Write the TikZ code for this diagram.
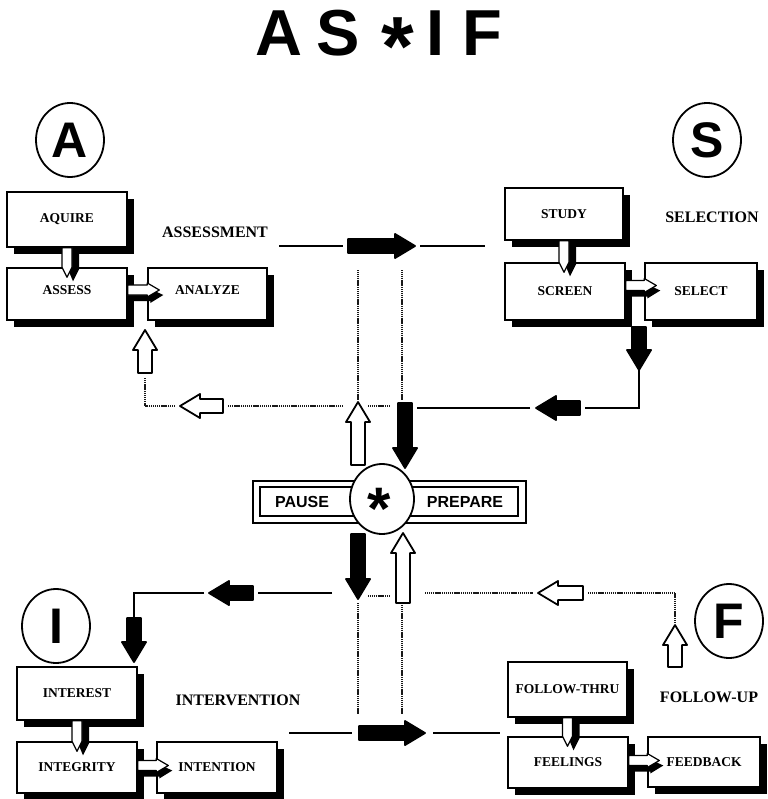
\documentclass[tikz,border=0pt]{standalone}
\usepackage{fontspec}
\setmainfont{Liberation Serif}
\newfontfamily\hsans{Liberation Sans}
\usetikzlibrary{shapes.geometric,shadows,calc}

% block arrow: tail coordinate, angle, length, fill colour
\newcommand{\barrow}[4]{%
\begin{scope}[shift={(#1)},rotate=#2]
\filldraw[fill=#4,draw=black,line width=1.8pt,line join=round]
 (0,-7) -- ({#3-20},-7) -- ({#3-20},-12) -- (#3,0) -- ({#3-20},12) -- ({#3-20},7) -- (0,7) -- cycle;
\end{scope}}

% vertical connector between stacked boxes
\newcommand{\vconn}[2]{%
\path let \p1=(#1.south), \p2=(#2.north) in
 [fill=black] ({\x1+1pt},{\y1-3pt}) -- ({\x1+12pt},{\y1-3pt}) -- ({\x1+12pt},{\y2-2pt})
   -- ({\x1+6pt},{\y2-14pt}) -- ({\x1+1pt},{\y2-2pt}) -- cycle;
\path let \p1=(#1.south), \p2=(#2.north) in
 [fill=white,draw=black,line width=1.2pt,line join=round]
 ({\x1-5pt},{\y1}) -- ({\x1+5pt},{\y1}) -- ({\x1+5pt},{\y2})
   -- ({\x1},{\y2-10pt}) -- ({\x1-5pt},{\y2}) -- cycle;}

% horizontal connector between side-by-side boxes (#3 = vertical offset, up)
\newcommand{\hconn}[3]{%
\path let \p1=(#1.east), \p2=(#2.west) in
 [fill=black] ({\x1},{\y1+#3-11pt}) -- ({\x2+3pt},{\y1+#3-11pt}) -- ({\x2+3pt},{\y1+#3-13pt})
   -- ({\x2+16pt},{\y1+#3-5pt}) -- ({\x2+3pt},{\y1+#3+1pt}) -- ({\x1},{\y1+#3+1pt}) -- cycle;
\path let \p1=(#1.east), \p2=(#2.west) in
 [fill=white,draw=black,line width=1.2pt,line join=round]
 ({\x1},{\y1+#3+5pt}) -- ({\x2},{\y1+#3+5pt}) -- ({\x2},{\y1+#3+7pt}) -- ({\x2+12pt},{\y1+#3})
   -- ({\x2},{\y1+#3-7pt}) -- ({\x2},{\y1+#3-5pt}) -- ({\x1},{\y1+#3-5pt}) -- cycle;}

\tikzset{
  fbox/.style={draw, line width=1.4pt, fill=white, minimum width=120pt, minimum height=53pt,
    inner sep=0pt, font=\bfseries\fontsize{13.5}{14}\selectfont,
    drop shadow={shadow xshift=7pt, shadow yshift=-7pt, opacity=1, fill=black}},
  sect/.style={font=\bfseries\fontsize{16}{16}\selectfont, inner sep=0pt},
  letter/.style={ellipse, draw, line width=1.8pt, minimum width=68pt, minimum height=74pt,
    inner sep=0pt, font=\hsans\bfseries\fontsize{50}{50}\selectfont},
  solid line/.style={line width=1.6pt},
  dot line/.style={line width=1.4pt, black!90, dash pattern=on 1.2pt off 0.7pt},
  hublabel/.style={inner sep=0pt, font=\hsans\bfseries\fontsize{16}{16}\selectfont},
}

\begin{document}
\begin{tikzpicture}[x=1pt,y=-1pt]
\useasboundingbox (0,0) rectangle (767,799);

% title
\node[anchor=base west, inner sep=0pt] (title) at (255.5,56)
 {\hsans\bfseries\fontsize{65}{65}\selectfont A\hspace{13.8pt}S\hspace{21.7pt}\raisebox{-20pt}{\fontsize{84}{84}\selectfont *}\hspace{12pt}I\hspace{18pt}F};

% corner letters
\node[letter] (cA) at (70,140) {A};
\node[letter] (cS) at (707,140) {S};
\node[letter] (cI) at (56,626) {I};
\node[letter] (cF) at (729,621) {F};

% coordinates for connectors
\coordinate (t1) at (279,246); \coordinate (t2) at (343,246);
\coordinate (t3) at (420,246); \coordinate (t4) at (485,246);
\coordinate (ta) at (348,246);
\coordinate (v1a) at (358,270); \coordinate (v1b) at (358,400);
\coordinate (v2a) at (402,270); \coordinate (v2b) at (402,400);
\coordinate (l1) at (343,406); \coordinate (l2) at (228,406);
\coordinate (l3) at (175,406); \coordinate (l4) at (145,406); \coordinate (l5) at (145,378);
\coordinate (la) at (223,406); \coordinate (ua) at (145,373);
\coordinate (m1) at (368,406); \coordinate (m2) at (390,406);
\coordinate (cw1) at (358,465); \coordinate (cb1) at (405,403);
\coordinate (cb2) at (358,534); \coordinate (cw2) at (403,603);
\coordinate (sa) at (639,327);
\coordinate (r1) at (639,370); \coordinate (r2) at (639,408); \coordinate (r3) at (585,408);
\coordinate (ra) at (580,408);
\coordinate (r4) at (530,408); \coordinate (r5) at (417,408);
\coordinate (b1) at (332,593); \coordinate (b2) at (258,593);
\coordinate (ba) at (253,593);
\coordinate (b3) at (204,593); \coordinate (b4) at (134,593); \coordinate (b5) at (134,618);
\coordinate (bd) at (134,618);
\coordinate (m3) at (368,596); \coordinate (m4) at (389,596);
\coordinate (f1) at (425,593); \coordinate (f2) at (533,593);
\coordinate (fa) at (583,593);
\coordinate (f3) at (588,593); \coordinate (f4) at (675,593); \coordinate (f5) at (675,622);
\coordinate (fu) at (675,667);
\coordinate (v3a) at (358,603); \coordinate (v3b) at (358,715);
\coordinate (v4a) at (402,603); \coordinate (v4b) at (402,715);
\coordinate (g1) at (289,733); \coordinate (g2) at (352,733);
\coordinate (ga) at (359,733);
\coordinate (g3) at (433,733); \coordinate (g4) at (500,733);

% solid lines
\draw[solid line] (t1) -- (t2);
\draw[solid line] (t3) -- (t4);
\draw[solid line] (r1) -- (r2) -- (r3);
\draw[solid line] (r4) -- (r5);
\draw[solid line] (b1) -- (b2);
\draw[solid line] (b3) -- (b4) -- (b5);
\draw[solid line] (g1) -- (g2);
\draw[solid line] (g3) -- (g4);

% dotted lines
\draw[dot line] (v1a) -- (v1b);
\draw[dot line] (v2a) -- (v2b);
\draw[dot line] (l1) -- (l2);
\draw[dot line] (l3) -- (l4) -- (l5);
\draw[dot line] (m1) -- (m2);
\draw[dot line] (m3) -- (m4);
\draw[dot line] (f1) -- (f2);
\draw[dot line] (f3) -- (f4) -- (f5);
\draw[dot line] (v3a) -- (v3b);
\draw[dot line] (v4a) -- (v4b);

% block arrows
\barrow{ta}{0}{67}{black}
\barrow{ga}{0}{66}{black}
\barrow{cb1}{-90}{65}{black}
\barrow{cb2}{-90}{65}{black}
\barrow{cw1}{90}{63}{white}
\barrow{cw2}{90}{70}{white}
\barrow{sa}{-90}{43}{black}
\barrow{ra}{180}{44}{black}
\barrow{ba}{180}{44}{black}
\barrow{bd}{-90}{44}{black}
\barrow{la}{180}{43}{white}
\barrow{ua}{90}{43}{white}
\barrow{fa}{180}{45}{white}
\barrow{fu}{90}{42}{white}

% centre bar
\draw[line width=1.5pt, fill=white] (253,481) rectangle (526,523);
\draw[line width=1.3pt] (260,487) rectangle (518,516);
\node[hublabel] (pause) at (302,502) {PAUSE};
\node[hublabel] (prepare) at (465,502) {PREPARE};
\node[ellipse, draw, line width=1.8pt, fill=white, minimum width=64pt, minimum height=70pt, inner sep=0pt] (hub) at (382,499) {};
\node[anchor=base, inner sep=0pt, font=\hsans\bfseries\fontsize{60}{60}\selectfont] (star) at (379,529) {*};

% boxes: Assessment
\node[fbox, minimum height=55pt] (aquire) at (67,219.5) {AQUIRE};
\node[fbox, minimum height=52pt] (assess) at (67,294) {\raisebox{8pt}{ASSESS}};
\node[fbox, minimum height=52pt, minimum width=119pt] (analyze) at (207.5,294) {\raisebox{8pt}{ANALYZE}};
% Selection
\node[fbox, minimum height=52pt, minimum width=118pt] (study) at (564,214) {STUDY};
\node[fbox, minimum height=57pt] (screen) at (565,291.5) {SCREEN};
\node[fbox, minimum height=57pt, minimum width=112pt] (select) at (701,291.5) {SELECT};
% Intervention
\node[fbox] (interest) at (77,693.5) {INTEREST};
\node[fbox, minimum height=51pt] (integrity) at (77,767.5) {INTEGRITY};
\node[fbox, minimum height=51pt] (intention) at (217,767.5) {INTENTION};
% Follow-up
\node[fbox, minimum height=55pt, minimum width=119pt] (followthru) at (567.5,689.5) {FOLLOW-THRU};
\node[fbox, minimum height=51pt] (feelings) at (568,762.5) {FEELINGS};
\node[fbox, minimum height=50pt, minimum width=112pt] (feedback) at (704,762) {FEEDBACK};

% connectors between boxes
\vconn{aquire}{assess}
\vconn{study}{screen}
\vconn{interest}{integrity}
\vconn{followthru}{feelings}
\hconn{assess}{analyze}{4pt}
\hconn{screen}{select}{6pt}
\hconn{integrity}{intention}{2pt}
\hconn{feelings}{feedback}{2pt}

% section labels
\node[sect] (lassess) at (215,232) {ASSESSMENT};
\node[sect] (lselect) at (712,217) {SELECTION};
\node[sect] (linter) at (238,700) {INTERVENTION};
\node[sect] (lfollow) at (709,697) {FOLLOW-UP};
\end{tikzpicture}
\end{document}
